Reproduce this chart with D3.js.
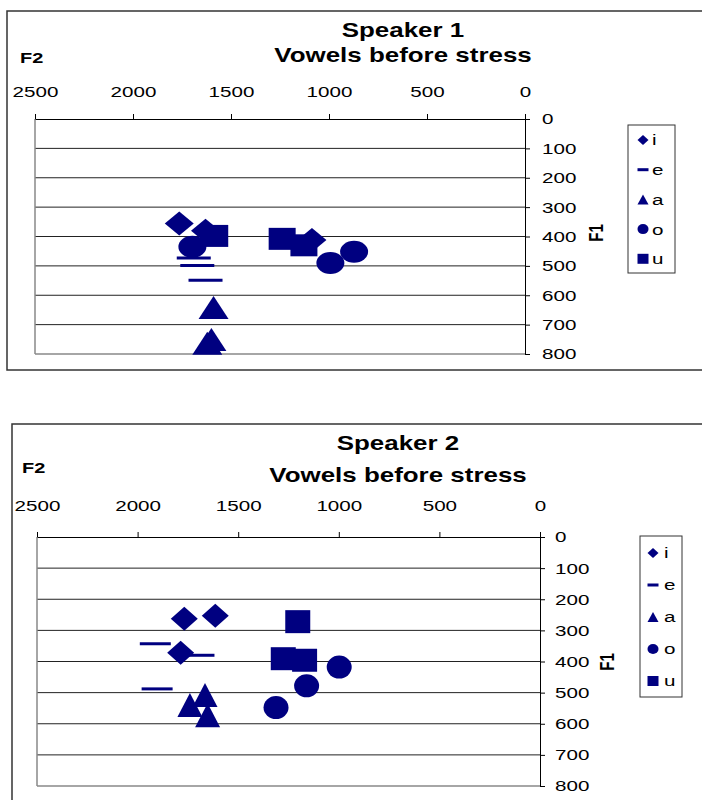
<!DOCTYPE html>
<html>
<head>
<meta charset="utf-8">
<script src="https://cdn.jsdelivr.net/npm/d3@7"></script>
<style>
  body { margin: 0; background: #fff; }
  svg { font-family: "Liberation Sans", Arial, sans-serif; }
</style>
</head>
<body>
<script>
// vowel categories, legend order and draw order
var vowels = ['i', 'e', 'a', 'o', 'u'];
var drawOrder = ['e', 'i', 'a', 'o', 'u'];
var f2Ticks = [2500, 2000, 1500, 1000, 500, 0];
var f1Ticks = [0, 100, 200, 300, 400, 500, 600, 700, 800];

// speaker 1, points as [F2, F1] in Hz
var s1_i = [[1764, 356], [1630, 380], [1087, 412]];
var s1_e = [[1690, 473], [1672, 499], [1630, 549]];
var s1_a = [[1589, 642], [1621, 763], [1600, 751]];
var s1_o = [[1697, 435], [993, 490], [872, 452]];
var s1_u = [[1583, 398], [1239, 408], [1128, 430]];

// speaker 2
var s2_i = [[1768, 263], [1614, 253], [1786, 372]];
var s2_e = [[1912, 343], [1695, 380], [1903, 488]];
var s2_a = [[1665, 508], [1740, 540], [1652, 573]];
var s2_o = [[998, 418], [1160, 478], [1312, 548]];
var s2_u = [[1204, 272], [1276, 391], [1170, 396]];

var navy = '#000080';
var stretch = 1.33;  // the original picture is widened, text included

var svg = d3.select('body').append('svg').attr('width', 702).attr('height', 800);

function markerPath(type, w, h) {
  if (type == 'o') {
    return 'M' + (-w/2) + ',0A' + (w/2) + ',' + (h/2) + ' 0 1,0 ' + (w/2) + ',0A' + (w/2) + ',' + (h/2) + ' 0 1,0 ' + (-w/2) + ',0Z';
  }
  var p = d3.path();
  if (type == 'i') {
    p.moveTo(0, -h/2); p.lineTo(w/2, 0); p.lineTo(0, h/2); p.lineTo(-w/2, 0); p.closePath();
  } else if (type == 'a') {
    p.moveTo(0, -h/2); p.lineTo(w/2, h/2); p.lineTo(-w/2, h/2); p.closePath();
  } else if (type == 'e') {
    p.rect(-w/2, -1.5, w, 3);
  } else {
    p.rect(-w/2, -h/2, w, h);
  }
  return p.toString();
}

function label(g, txt, x, y, size, bold, anchor) {
  return g.append('text')
    .attr('transform', 'translate(' + x + ',' + y + ') scale(' + stretch + ',1)')
    .attr('text-anchor', anchor || 'start')
    .style('font-size', size + 'px')
    .style('font-weight', bold ? 'bold' : 'normal')
    .text(txt);
}

function drawChart(series, c) {
  var g = svg.append('g');

  g.append('rect')
    .attr('x', c.box[0]).attr('y', c.box[1])
    .attr('width', 720 - c.box[0]).attr('height', c.box[2] - c.box[1])
    .attr('fill', 'none').attr('stroke', '#333').attr('stroke-width', 1.5);

  var x = d3.scaleLinear().domain([2500, 0]).range([c.x0, c.x1]);
  var y = d3.scaleLinear().domain([0, 800]).range([c.y0, c.y1]);

  // horizontal gridlines
  g.append('g').selectAll('line')
    .data(f1Ticks.filter(d => d > 0 && d < 800))
    .enter().append('line')
      .attr('x1', c.x0).attr('x2', c.x1)
      .attr('y1', d => y(d)).attr('y2', d => y(d))
      .attr('stroke', '#222').attr('stroke-width', 1);

  // left and bottom edges of the plot area
  g.append('line').attr('x1', c.x0).attr('x2', c.x0).attr('y1', c.y0).attr('y2', c.y1)
    .attr('stroke', '#888').attr('stroke-width', 1.5);
  g.append('line').attr('x1', c.x0).attr('x2', c.x1).attr('y1', c.y1).attr('y2', c.y1)
    .attr('stroke', '#888').attr('stroke-width', 1.5);

  var xAxis = g.append('g').attr('transform', 'translate(0,' + c.y0 + ')')
    .call(d3.axisTop(x).tickValues(f2Ticks).tickSize(5).tickSizeOuter(0).tickPadding(0).tickFormat(d3.format('d')));
  xAxis.selectAll('text')
    .attr('y', 0).attr('dy', 0)
    .attr('transform', 'translate(0,' + (c.xLabelY - c.y0) + ') scale(' + stretch + ',1)')
    .attr('fill', '#000').style('font-size', '15.5px').style('font-family', 'inherit');

  var yAxis = g.append('g').attr('transform', 'translate(' + c.x1 + ',0)')
    .call(d3.axisRight(y).tickValues(f1Ticks).tickSize(5).tickSizeOuter(0).tickPadding(c.yPad).tickFormat(d3.format('d')));
  yAxis.selectAll('text')
    .attr('transform', 'scale(' + stretch + ',1)')
    .attr('fill', '#000').style('font-size', '15.5px').style('font-family', 'inherit');
  g.selectAll('.domain, .tick line').attr('stroke', '#000');

  // titles
  label(g, c.title, c.tx, c.ty1, 19.5, true, 'middle');
  label(g, 'Vowels before stress', c.tx, c.ty2, 19.5, true, 'middle');
  label(g, 'F2', c.f2x, c.f2y, 15, true);
  g.append('text')
    .attr('transform', 'translate(' + c.f1x + ',' + c.f1y + ') rotate(-90) scale(1,' + stretch + ')')
    .attr('text-anchor', 'middle').attr('dy', '0.35em')
    .style('font-size', '15px').style('font-weight', 'bold')
    .text('F1');

  // points
  drawOrder.forEach(function(v) {
    var sz = c.size[v];
    g.append('g').selectAll('path')
      .data(series[v])
      .enter().append('path')
        .attr('transform', d => 'translate(' + x(d[0]) + ',' + y(d[1]) + ')')
        .attr('d', markerPath(v, sz[0], sz[1]))
        .attr('fill', navy);
  });

  // legend
  var L = c.legend;
  var lg = g.append('g');
  lg.append('rect').attr('x', L.x).attr('y', L.y).attr('width', L.w).attr('height', L.h)
    .attr('fill', '#fff').attr('stroke', '#333').attr('stroke-width', 1);
  var ly = d3.scalePoint().domain(vowels).range([L.first, L.first + L.step * 4]);
  var items = lg.selectAll('g.item').data(vowels).enter().append('g')
    .attr('class', 'item')
    .attr('transform', d => 'translate(0,' + ly(d) + ')');
  items.append('path')
    .attr('transform', 'translate(' + L.mx + ',0)')
    .attr('d', d => markerPath(d, 11, 10))
    .attr('fill', navy);
  items.append('text')
    .attr('transform', 'translate(' + L.tx + ',0) scale(' + stretch + ',1)')
    .attr('dy', '0.35em')
    .style('font-size', '15.5px')
    .text(d => d);
}

drawChart({i: s1_i, e: s1_e, a: s1_a, o: s1_o, u: s1_u}, {
  box: [7, 11, 370],
  x0: 35, x1: 525, y0: 119, y1: 354,
  xLabelY: 97, yPad: 7.8,
  title: 'Speaker 1', tx: 403, ty1: 37, ty2: 62,
  f2x: 20, f2y: 63, f1x: 596, f1y: 233,
  size: {i: [29, 24], e: [34, 3], a: [30, 23], o: [28, 22], u: [27, 22]},
  legend: {x: 628, y: 125, w: 47, h: 148, first: 140, step: 29.7, mx: 643, tx: 652}
});

drawChart({i: s2_i, e: s2_e, a: s2_a, o: s2_o, u: s2_u}, {
  box: [12, 424, 820],
  x0: 37, x1: 540, y0: 537, y1: 786,
  xLabelY: 511, yPad: 6.3,
  title: 'Speaker 2', tx: 398, ty1: 450, ty2: 482,
  f2x: 22, f2y: 473, f1x: 607, f1y: 662,
  size: {i: [27, 24], e: [31, 3], a: [25, 24], o: [25, 23], u: [25, 23]},
  legend: {x: 640, y: 536, w: 42, h: 161, first: 553, step: 32, mx: 653, tx: 664}
});
</script>
</body>
</html>
